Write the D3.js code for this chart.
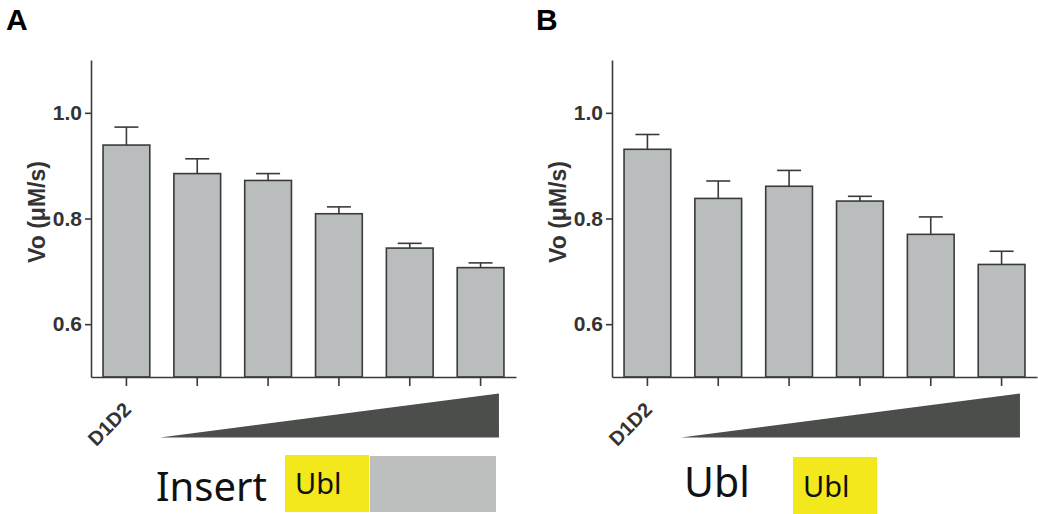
<!DOCTYPE html>
<html>
<head>
<meta charset="utf-8">
<script src="https://cdn.jsdelivr.net/npm/d3@7/dist/d3.min.js"></script>
<style>
    body{ margin:0; background:#fff; }
    svg{ display:block; }
    .bar{ fill:#b9bdbd; stroke:#3a3a3a; stroke-width:1.6px; }
    .err{ stroke:#3a3a3a; stroke-width:1.6px; fill:none; }
    .axis path, .axis line{ stroke:#3a3a3a; stroke-width:1.6px; }
    .axis text{ font-family:"Liberation Sans", Arial, sans-serif; font-weight:bold; font-size:21px; fill:#333; }
    .xlab{ font-family:"Liberation Sans", Arial, sans-serif; font-weight:bold; font-size:20px; fill:#333; }
    .ylab{ font-family:"Liberation Sans", Arial, sans-serif; font-weight:bold; font-size:23px; fill:#333; }
    .panel{ font-family:"Liberation Sans", Arial, sans-serif; font-weight:bold; font-size:30px; fill:#000; }
    .legend{ font-family:"Noto Sans", "Open Sans", sans-serif; fill:#111; }
</style>
</head>
<body>
<div id="container"></div>
<script>
    // data
    var categories = ["D1D2", "s1", "s2", "s3", "s4", "s5"];
    var tickLabels = ["D1D2", "", "", "", "", ""];
    var yTicks = [0.6, 0.8, 1.0];
    var yTitle = "Vo (\u03BCM/s)";

    var insertMeans = [0.939, 0.885, 0.872, 0.809, 0.744, 0.707];
    var insertErrors = [0.034, 0.028, 0.013, 0.013, 0.009, 0.009];

    var ublMeans = [0.931, 0.838, 0.861, 0.833, 0.770, 0.713];
    var ublErrors = [0.028, 0.033, 0.030, 0.009, 0.033, 0.025];

    var svg = d3.select("#container").append("svg")
        .attr("width", 1038)
        .attr("height", 514);

    var y = d3.scaleLinear().domain([0.5, 1.1]).range([377, 60]);

    function drawPanel(letter, letterX, left, means, errors, legend){
        var g = svg.append("g");
        var x = d3.scaleBand().domain(categories)
            .range([left, left + 425]).paddingInner(0.34).paddingOuter(0.17);

        g.append("text").attr("class", "panel")
            .attr("x", letterX).attr("y", 30).text(letter);

        // bars
        g.selectAll(".bar").data(means).enter().append("rect")
            .attr("class", "bar")
            .attr("x", function(d, i){ return x(categories[i]); })
            .attr("width", x.bandwidth())
            .attr("y", function(d){ return y(d); })
            .attr("height", function(d){ return y(0.5) - y(d); });

        // error bars (upper only)
        var eb = g.selectAll(".eb").data(means).enter().append("g");
        eb.append("line").attr("class", "err")
            .attr("x1", function(d, i){ return x(categories[i]) + x.bandwidth() / 2; })
            .attr("x2", function(d, i){ return x(categories[i]) + x.bandwidth() / 2; })
            .attr("y1", function(d){ return y(d); })
            .attr("y2", function(d, i){ return y(d + errors[i]); });
        eb.append("line").attr("class", "err")
            .attr("x1", function(d, i){ return x(categories[i]) + x.bandwidth() / 2 - 12; })
            .attr("x2", function(d, i){ return x(categories[i]) + x.bandwidth() / 2 + 12; })
            .attr("y1", function(d, i){ return y(d + errors[i]); })
            .attr("y2", function(d, i){ return y(d + errors[i]); });

        // axes
        g.append("g").attr("class", "axis")
            .attr("transform", "translate(" + left + ",0)")
            .call(d3.axisLeft(y).tickValues(yTicks).tickFormat(d3.format(".1f"))
                .tickSize(6).tickSizeOuter(0).tickPadding(3));

        g.append("g").attr("class", "axis")
            .attr("transform", "translate(0," + y(0.5) + ")")
            .call(d3.axisBottom(x).tickFormat("").tickSize(9).tickSizeOuter(0));

        g.append("text").attr("class", "ylab")
            .attr("text-anchor", "middle")
            .attr("transform", "translate(" + (left - 46) + ",212) rotate(-90)")
            .text(yTitle);

        // x label, rotated
        tickLabels.forEach(function(t, i){
            if(!t) return;
            var cx = x(categories[i]) + x.bandwidth() / 2;
            g.append("text").attr("class", "xlab")
                .attr("text-anchor", "end")
                .attr("transform", "translate(" + (cx + 6) + ",411) rotate(-45)")
                .text(t);
        });

        // concentration wedge
        var x0 = x(categories[1]) - 14, x1 = x(categories[5]) + x.bandwidth() - 5;
        g.append("path")
            .attr("d", "M" + x0 + ",437.5L" + x1 + ",393.5L" + x1 + ",437.5Z")
            .attr("fill", "#4b4e4b");

        // construct legend
        legend(g, left);
    }

    drawPanel("A", 6, 91, insertMeans, insertErrors, function(g, left){
        g.append("text").attr("class", "legend")
            .attr("x", left + 65).attr("y", 501)
            .style("font-size", "40px").text("Insert");
        g.append("rect").attr("x", left + 194).attr("y", 455)
            .attr("width", 84).attr("height", 57).attr("fill", "#f2e81c");
        g.append("rect").attr("x", left + 279).attr("y", 456)
            .attr("width", 126).attr("height", 56).attr("fill", "#bcbfbd");
        g.append("text").attr("class", "legend")
            .attr("x", left + 204).attr("y", 494)
            .style("font-size", "29px").text("Ubl");
    });

    drawPanel("B", 536, 612, ublMeans, ublErrors, function(g, left){
        g.append("text").attr("class", "legend")
            .attr("x", left + 72).attr("y", 497)
            .style("font-size", "41px").text("Ubl");
        g.append("rect").attr("x", left + 181).attr("y", 457)
            .attr("width", 84).attr("height", 57).attr("fill", "#f2e81c");
        g.append("text").attr("class", "legend")
            .attr("x", left + 191).attr("y", 497)
            .style("font-size", "29px").text("Ubl");
    });
</script>
</body>
</html>
